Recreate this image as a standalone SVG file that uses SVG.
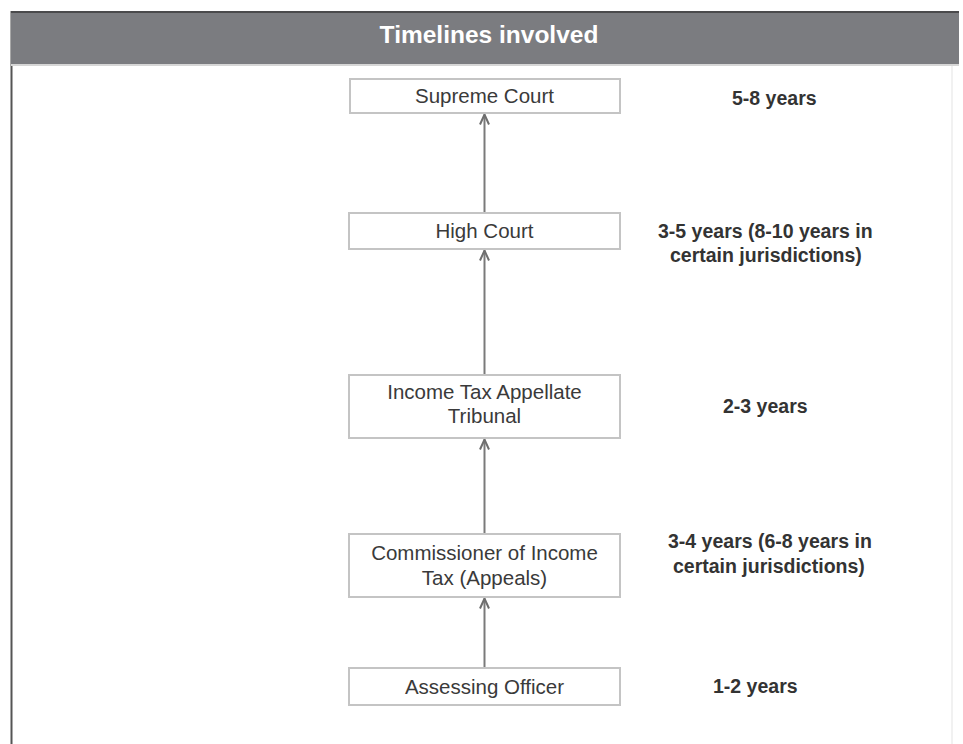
<svg xmlns="http://www.w3.org/2000/svg" width="963" height="744" viewBox="0 0 963 744">
  <defs>
    <style>
      .box { fill: #ffffff; stroke: #c4c4c4; stroke-width: 2; }
      .lbl { font-family: "Liberation Sans", Arial, sans-serif; font-size: 20.5px; fill: #3a3a3a; text-anchor: middle; }
      .yr { font-family: "Liberation Sans", Arial, sans-serif; font-size: 19.5px; font-weight: bold; fill: #333333; }
      .conn { stroke: #7a7a7a; stroke-width: 2; fill: none; }
    </style>
    <marker id="arr" markerUnits="userSpaceOnUse" markerWidth="14" markerHeight="14" viewBox="-12 -7 14 14" refX="0" refY="0" orient="auto">
      <path d="M-10,-4.5 L0,0 L-10,4.5" fill="none" stroke="#6e6e6e" stroke-width="2"/>
    </marker>
  </defs>

  <rect x="0" y="0" width="963" height="744" fill="#ffffff"/>

  <g id="frame">
    <line x1="11.5" y1="11" x2="11.5" y2="744" stroke="#555555" stroke-width="2"/>
    <line x1="952" y1="66" x2="952" y2="744" stroke="#ececec" stroke-width="1.5"/>
  </g>

  <g id="header">
    <rect x="11" y="11" width="948" height="55" fill="#7b7c80"/>
    <rect x="11" y="11" width="948" height="2" fill="#4a4a4c"/>
    <rect x="11" y="64" width="948" height="2" fill="#d6d6d6"/>
    <text x="489" y="43" font-family="'Liberation Sans', Arial, sans-serif" font-size="24.5" font-weight="bold" fill="#ffffff" text-anchor="middle">Timelines involved</text>
  </g>

  <g id="connectors">
    <line class="conn" x1="484.5" y1="668" x2="484.5" y2="598.5" marker-end="url(#arr)"/>
    <line class="conn" x1="484.5" y1="534" x2="484.5" y2="439.5" marker-end="url(#arr)"/>
    <line class="conn" x1="484.5" y1="375" x2="484.5" y2="250.5" marker-end="url(#arr)"/>
    <line class="conn" x1="484.5" y1="213" x2="484.5" y2="114.5" marker-end="url(#arr)"/>
  </g>

  <g id="node-supreme-court">
    <rect class="box" x="350" y="79" width="270" height="34"/>
    <text class="lbl" x="484.5" y="103">Supreme Court</text>
  </g>
  <g id="node-high-court">
    <rect class="box" x="349" y="213" width="271" height="36"/>
    <text class="lbl" x="484.5" y="238">High Court</text>
  </g>
  <g id="node-itat">
    <rect class="box" x="349" y="375" width="271" height="63"/>
    <text class="lbl" x="484.5" y="399">Income Tax Appellate</text>
    <text class="lbl" x="484.5" y="423">Tribunal</text>
  </g>
  <g id="node-cita">
    <rect class="box" x="349" y="534" width="271" height="63"/>
    <text class="lbl" x="484.5" y="560">Commissioner of Income</text>
    <text class="lbl" x="484.5" y="585">Tax (Appeals)</text>
  </g>
  <g id="node-ao">
    <rect class="box" x="349" y="668" width="271" height="37"/>
    <text class="lbl" x="484.5" y="694">Assessing Officer</text>
  </g>

  <g id="timelines">
    <text class="yr" x="732" y="105">5-8 years</text>
    <text class="yr" x="658" y="238">3-5 years (8-10 years in</text>
    <text class="yr" x="670" y="262">certain jurisdictions)</text>
    <text class="yr" x="723" y="413">2-3 years</text>
    <text class="yr" x="668" y="548">3-4 years (6-8 years in</text>
    <text class="yr" x="673" y="573">certain jurisdictions)</text>
    <text class="yr" x="713" y="693">1-2 years</text>
  </g>
</svg>
